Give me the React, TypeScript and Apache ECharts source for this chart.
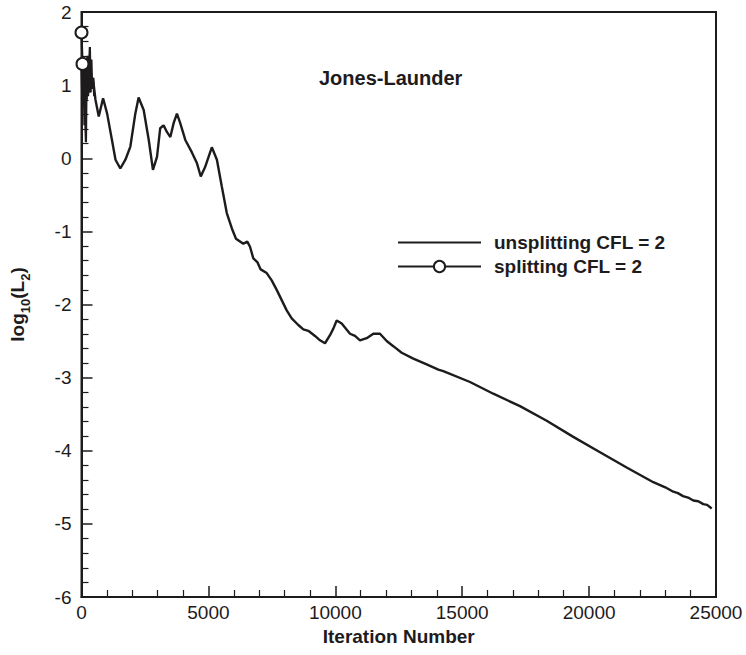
import React, { useEffect, useRef } from "react";
import * as echarts from "echarts";

// Iteration number / log10(L2) for the unsplitting run
const unsplitX = [0, 40, 80, 120, 160, 200, 250, 300, 350, 400, 450, 550, 680, 850, 1010, 1200, 1340, 1530, 1730, 1925, 2120, 2250, 2450, 2650, 2815, 2975, 3100, 3235, 3365, 3500, 3630, 3760, 3890, 4090, 4350, 4550, 4700, 4870, 5135, 5335, 5530, 5725, 5925, 6087, 6375, 6532, 6640, 6770, 6927, 7060, 7297, 7494, 7691, 7888, 8085, 8282, 8542, 8740, 8937, 9200, 9397, 9594, 9791, 9922, 10055, 10252, 10580, 10776, 10973, 11236, 11500, 11760, 12025, 12285, 12615, 13075, 13600, 14060, 14255, 15307, 16225, 17277, 18329, 19377, 20430, 21480, 22530, 23000, 23317, 23500, 23700, 23900, 24105, 24300, 24500, 24650, 24830];
const unsplitY = [1.3, 0.75, 1.35, 0.45, 1.2, 0.8, 1.4, 0.9, 1.3, 1.0, 1.1, 0.8, 0.57, 0.82, 0.61, 0.25, -0.02, -0.14, -0.02, 0.16, 0.61, 0.83, 0.66, 0.25, -0.16, 0.02, 0.41, 0.45, 0.36, 0.29, 0.48, 0.61, 0.48, 0.25, 0.08, -0.07, -0.25, -0.12, 0.15, -0.02, -0.39, -0.75, -0.96, -1.1, -1.17, -1.14, -1.21, -1.37, -1.42, -1.52, -1.57, -1.67, -1.8, -1.94, -2.08, -2.19, -2.28, -2.34, -2.36, -2.43, -2.49, -2.53, -2.42, -2.33, -2.22, -2.26, -2.4, -2.43, -2.49, -2.46, -2.4, -2.4, -2.5, -2.57, -2.66, -2.74, -2.82, -2.89, -2.91, -3.06, -3.22, -3.39, -3.59, -3.81, -4.02, -4.23, -4.43, -4.5, -4.56, -4.58, -4.62, -4.64, -4.68, -4.69, -4.73, -4.74, -4.79];

// splitting run (only the first iterations are distinguishable)
const splitX = [0, 40, 80, 110, 140, 175, 200, 230, 260, 290, 330, 360, 390, 420, 460, 500];
const splitY = [1.72, 1.29, 0.95, 1.35, 0.6, 0.22, 1.1, 1.38, 0.85, 1.2, 1.52, 0.9, 1.35, 0.95, 1.1, 0.85];
const markerCount = 2;

const xTicks = { min: 0, max: 25000, interval: 5000 };
const yTicks = { min: -6, max: 2, interval: 1 };

const seriesNames = ["unsplitting CFL = 2", "splitting CFL = 2"];
const titleText = "Jones-Launder";
const FONT = "Liberation Sans, Arial, Helvetica, sans-serif";
const INK = "#1e1b1c";

export default function App() {
  const ref = useRef<HTMLDivElement>(null);
  useEffect(() => {
    if (!ref.current) return;
    const chart = echarts.init(ref.current, null, { renderer: "svg" });
    const unsplit = unsplitX.map((x, i) => [x, unsplitY[i]]);
    const split = splitX.map((x, i) =>
      i < markerCount ? { value: [x, splitY[i]] } : { value: [x, splitY[i]], symbol: "none" }
    );
    chart.setOption({
      animation: false,
      backgroundColor: "#fff",
      textStyle: { fontFamily: FONT, color: INK },
      grid: {
        left: 81.5,
        right: 30,
        top: 12,
        bottom: 58,
        show: true,
        borderColor: INK,
        borderWidth: 2,
        backgroundColor: "transparent",
      },
      legend: {
        left: 397,
        top: 233,
        padding: 0,
        orient: "vertical",
        itemWidth: 83,
        itemHeight: 14,
        itemGap: 5,
        data: [
          { name: seriesNames[0], itemStyle: { opacity: 0, borderWidth: 0 } },
          { name: seriesNames[1] },
        ],
        textStyle: {
          fontFamily: FONT,
          fontSize: 19,
          fontWeight: "bold",
          color: INK,
          padding: [0, 0, 0, 8],
        },
      },
      graphic: [
        {
          type: "text",
          left: 319,
          top: 68,
          style: { text: titleText, font: `bold 20px ${FONT}`, fill: INK },
        },
      ],
      xAxis: {
        type: "value",
        min: xTicks.min,
        max: xTicks.max,
        interval: xTicks.interval,
        name: "Iteration Number",
        nameLocation: "middle",
        nameGap: 24,
        nameTextStyle: { fontFamily: FONT, fontSize: 19, fontWeight: "bold", color: INK },
        axisLine: { show: true, onZero: false, lineStyle: { color: INK, width: 2 } },
        axisTick: { show: true, inside: true, length: 11, lineStyle: { color: INK, width: 1.5 } },
        minorTick: { show: true, splitNumber: 5, length: 7, lineStyle: { color: INK, width: 1.2 } },
        axisLabel: { fontFamily: FONT, fontSize: 19, color: INK, margin: 6, formatter: (v: number) => String(v) },
        splitLine: { show: false },
      },
      yAxis: {
        type: "value",
        min: yTicks.min,
        max: yTicks.max,
        interval: yTicks.interval,
        name: "{a|log}{b|10}{a|(L}{b|2}{a|)}",
        nameLocation: "middle",
        nameGap: 50,
        nameRotate: 90,
        nameTextStyle: {
          rich: {
            a: { fontFamily: FONT, fontSize: 19, fontWeight: "bold", color: INK, lineHeight: 28, verticalAlign: "middle" },
            b: { fontFamily: FONT, fontSize: 13, fontWeight: "bold", color: INK, lineHeight: 14, verticalAlign: "bottom" },
          },
        },
        axisLine: { show: true, onZero: false, lineStyle: { color: INK, width: 2 } },
        axisTick: { show: true, inside: true, length: 11, lineStyle: { color: INK, width: 1.5 } },
        minorTick: { show: true, splitNumber: 5, length: 7, lineStyle: { color: INK, width: 1.2 } },
        axisLabel: { fontFamily: FONT, fontSize: 19, color: INK, margin: 10 },
        splitLine: { show: false },
      },
      series: [
        {
          name: seriesNames[0],
          type: "line",
          data: unsplit,
          symbol: "none",
          color: INK,
          lineStyle: { color: INK, width: 2.4 },
          clip: false,
        },
        {
          name: seriesNames[1],
          type: "line",
          data: split,
          symbol: "circle",
          symbolSize: 12,
          showSymbol: true,
          color: INK,
          itemStyle: { color: "#fff", borderColor: INK, borderWidth: 2 },
          lineStyle: { color: INK, width: 2.2 },
          clip: false,
        },
      ],
    });
    return () => chart.dispose();
  }, []);
  return (
    <div
      ref={ref}
      style={{ position: "fixed", left: 0, top: 0, width: 746, height: 655, background: "#fff" }}
    />
  );
}
